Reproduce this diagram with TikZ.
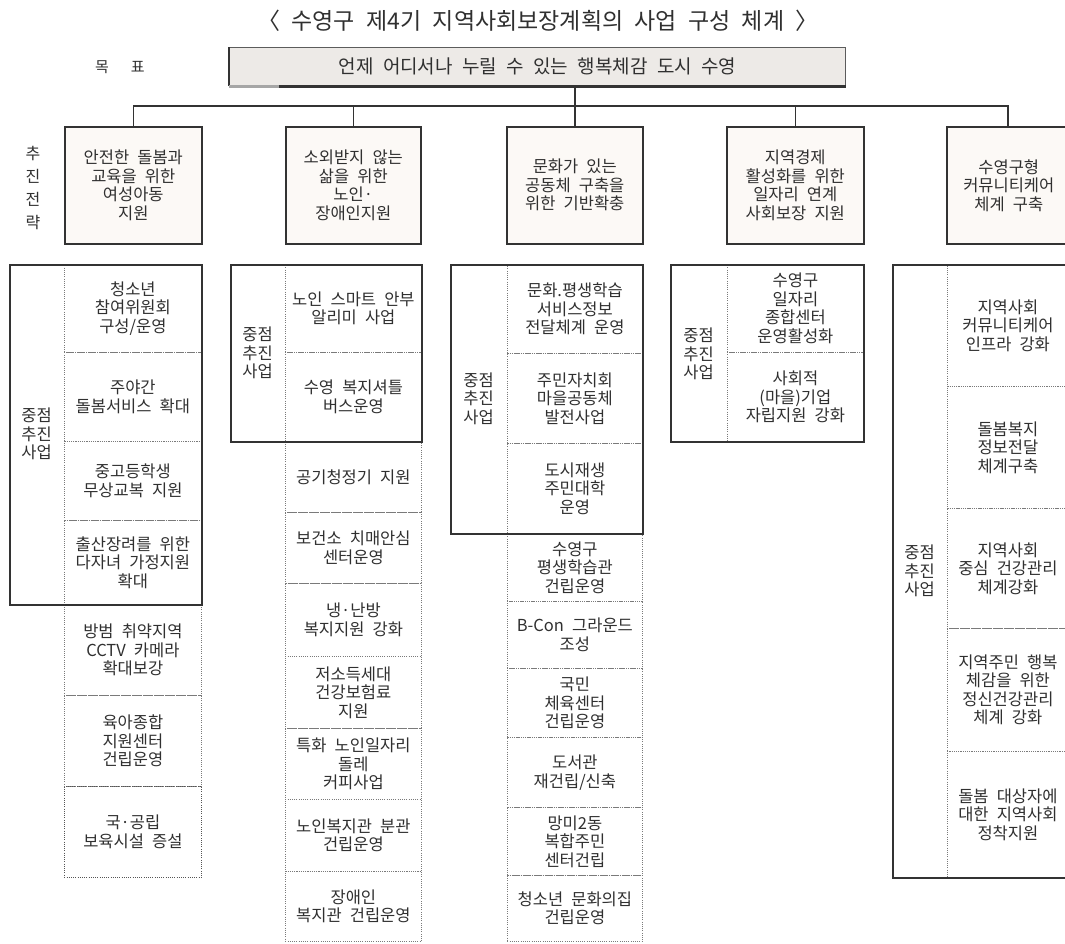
\documentclass[tikz,border=0pt]{standalone}
\usepackage{fontspec}
\setmainfont[WordSpace=2.2]{Noto Sans CJK KR}
\usetikzlibrary{calc}
\definecolor{ink}{HTML}{303030}
\definecolor{frame}{HTML}{333333}
\definecolor{dots}{HTML}{7A7A7A}
\definecolor{cream}{HTML}{FCF9F6}
\definecolor{goalfill}{HTML}{EDEAE7}
\newcommand\cellat[7]{\node[#1, anchor=north west, minimum width={(#5-#3)*1pt}, minimum height={(#6-#4)*1pt}] (#2) at (#3,#4) {#7};}
\begin{document}
\begin{tikzpicture}[x=1pt,y=-1pt,
  txtst/.style={text=ink, align=center, inner sep=0pt, font=\fontsize{16.5}{18.5}\selectfont},
  cellst/.style={txtst, draw=dots, line width=0.8pt, dash pattern=on 0.9pt off 1.3pt},
  lastcell/.style={cellst, draw=dots!70!black},
  stratst/.style={txtst, draw=frame, line width=1.6pt, fill=cream},
  solidst/.style={draw=frame, line width=1.8pt, inner sep=0pt},
  labst/.style={txtst},
  conn/.style={draw=frame, line width=1.3pt}
]
\clip (0,0) rectangle (1065,943);
\fill[white] (0,0) rectangle (1065,943);

% title
\node[txtst, font=\fontsize{23}{26}\selectfont] (title) at (538,21) {〈 수영구 제4기 지역사회보장계획의 사업 구성 체계 〉};

% goal row
\node[txtst, font=\fontsize{15}{18}\selectfont] (goallab) at (120,67) {목\hspace{22pt}표};
\cellat{txtst, draw=frame!80, line width=1.1pt, fill=goalfill, font=\fontsize{19}{22}\selectfont}{goal}{229}{47}{845}{85}{언제 어디서나 누릴 수 있는 행복체감 도시 수영}
\draw[draw=frame, line width=2.6pt] (goal.north west) -- (goal.south west);
\draw[draw=frame, line width=3pt] ([xshift=50pt]goal.south west) -- (goal.south east);
\draw[draw=gray!70, line width=3pt] (goal.south west) -- ([xshift=50pt]goal.south west);

% strategy label
\node[txtst, font=\fontsize{16}{23.3}\selectfont] (stratlab) at (33,188) {추\\진\\전\\략};

% strategy boxes
\cellat{stratst}{s1}{64}{126}{201}{243}{안전한 돌봄과\\교육을 위한\\여성아동\\지원}
\cellat{stratst}{s2}{285}{126}{420}{243}{소외받지 않는\\삶을 위한\\노인·\\장애인지원}
\cellat{stratst}{s3}{506}{126}{642}{243}{문화가 있는\\공동체 구축을\\위한 기반확충}
\cellat{stratst}{s4}{726}{126}{863}{243}{지역경제\\활성화를 위한\\일자리 연계\\사회보장 지원}
\cellat{stratst}{s5}{946}{126}{1070}{243}{수영구형\\커뮤니티케어\\체계 구축}

% connectors
\coordinate (bus) at (0,106);
\draw[conn] (goal.south -| 575,0) -- (575,0 |- s3.north);
\draw[conn] (s1.north) |- (bus -| 1008,0) -- (1008,0 |- s5.north);
\draw[conn] (s2.north) -- (s2.north |- bus);
\draw[conn] (s4.north) -- (s4.north |- bus);

% column 1
\cellat{cellst}{c1a}{64}{264}{201}{352}{청소년\\참여위원회\\구성/운영}
\cellat{cellst}{c1b}{64}{352}{201}{441}{주야간\\돌봄서비스 확대}
\cellat{cellst}{c1c}{64}{441}{201}{520}{중고등학생\\무상교복 지원}
\cellat{cellst}{c1d}{64}{520}{201}{604}{출산장려를 위한\\다자녀 가정지원\\확대}
\cellat{cellst}{c1e}{64}{604}{201}{695}{방범 취약지역\\CCTV 카메라\\확대보강}
\cellat{cellst}{c1f}{64}{695}{201}{786}{육아종합\\지원센터\\건립운영}
\cellat{lastcell}{c1g}{64}{786}{201}{877}{국·공립\\보육시설 증설}
\cellat{solidst}{b1}{9}{264}{201}{604}{}
\node[labst] (l1) at (36.5,434) {중점\\추진\\사업};

% column 2
\cellat{cellst}{c2a}{285}{264}{421}{352}{노인 스마트 안부\\알리미 사업}
\cellat{cellst}{c2b}{285}{352}{421}{441}{수영 복지셔틀\\버스운영}
\cellat{cellst}{c2c}{285}{441}{421}{512}{공기청정기 지원}
\cellat{cellst}{c2d}{285}{512}{421}{583}{보건소 치매안심\\센터운영}
\cellat{cellst}{c2e}{285}{583}{421}{656}{냉·난방\\복지지원 강화}
\cellat{cellst}{c2f}{285}{656}{421}{728}{저소득세대\\건강보험료\\지원}
\cellat{cellst}{c2g}{285}{728}{421}{799}{특화 노인일자리\\돌레\\커피사업}
\cellat{cellst}{c2h}{285}{799}{421}{871}{노인복지관 분관\\건립운영}
\cellat{cellst}{c2i}{285}{871}{421}{941}{장애인\\복지관 건립운영}
\cellat{solidst}{b2}{230}{264}{421}{441}{}
\node[labst] (l2) at (257.5,353) {중점\\추진\\사업};

% column 3
\cellat{cellst}{c3a}{507}{264}{642}{353}{문화.평생학습\\서비스정보\\전달체계 운영}
\cellat{cellst}{c3b}{507}{353}{642}{443}{주민자치회\\마을공동체\\발전사업}
\cellat{cellst}{c3c}{507}{443}{642}{533}{도시재생\\주민대학\\운영}
\cellat{cellst}{c3d}{507}{533}{642}{601}{수영구\\평생학습관\\건립운영}
\cellat{cellst}{c3e}{507}{601}{642}{668}{B-Con 그라운드\\조성}
\cellat{cellst}{c3f}{507}{668}{642}{737}{국민\\체육센터\\건립운영}
\cellat{cellst}{c3g}{507}{737}{642}{807}{도서관\\재건립/신축}
\cellat{cellst}{c3h}{507}{807}{642}{875}{망미2동\\복합주민\\센터건립}
\cellat{cellst}{c3i}{507}{875}{642}{941}{청소년 문화의집\\건립운영}
\cellat{solidst}{b3}{450}{264}{642}{533}{}
\node[labst] (l3) at (478.5,398.5) {중점\\추진\\사업};

% column 4
\cellat{cellst}{c4a}{727}{264}{863}{352}{수영구\\일자리\\종합센터\\운영활성화}
\cellat{cellst}{c4b}{727}{352}{863}{441}{사회적\\(마을)기업\\자립지원 강화}
\cellat{solidst}{b4}{670}{264}{863}{441}{}
\node[labst] (l4) at (698.5,354) {중점\\추진\\사업};

% column 5
\cellat{cellst}{c5a}{947}{264}{1068}{386}{지역사회\\커뮤니티케어\\인프라 강화}
\cellat{cellst}{c5b}{947}{386}{1068}{508}{돌봄복지\\정보전달\\체계구축}
\cellat{cellst}{c5c}{947}{508}{1068}{628}{지역사회\\중심 건강관리\\체계강화}
\cellat{cellst}{c5d}{947}{628}{1068}{751}{지역주민 행복\\체감을 위한\\정신건강관리\\체계 강화}
\cellat{cellst}{c5e}{947}{751}{1068}{877}{돌봄 대상자에\\대한 지역사회\\정착지원}
\cellat{solidst}{b5}{892}{264}{1072}{877}{}
\node[labst] (l5) at (919.5,571) {중점\\추진\\사업};
\end{tikzpicture}
\end{document}
